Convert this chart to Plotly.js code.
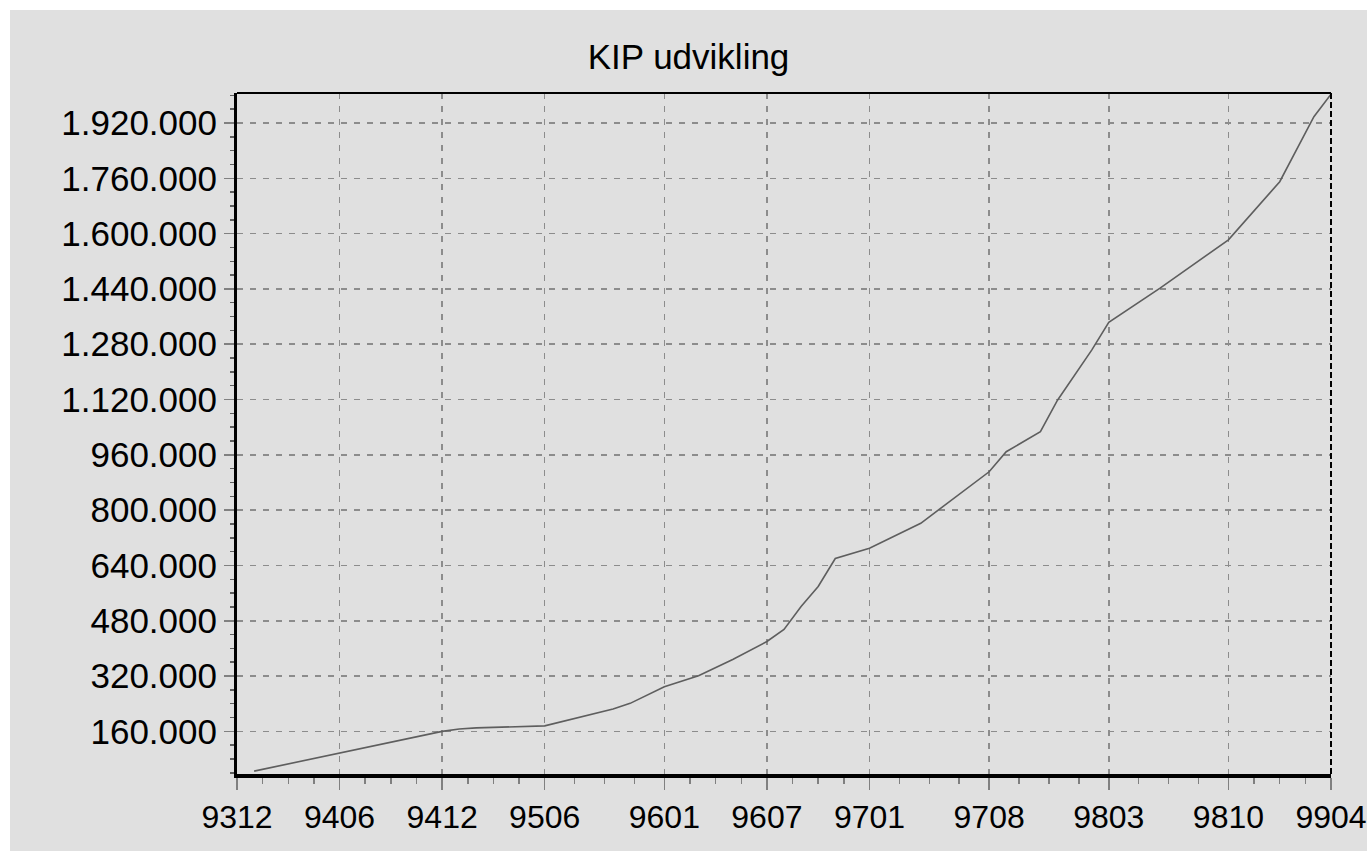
<!DOCTYPE html>
<html>
<head>
<meta charset="utf-8">
<script src="https://cdn.plot.ly/plotly-3.0.1.min.js"></script>
<style>
  html, body { margin: 0; padding: 0; background: #ffffff; overflow: hidden; }
  #chart { position: absolute; left: 10px; top: 10px; width: 1357px; height: 841px; }
</style>
</head>
<body>
<div id="chart"></div>
<script>
// Data (period = YYMM, value = KIP)
const periods = ['9401','9406','9412','9501','9502','9506','9510','9511','9601','9603','9605','9607','9608','9609','9610','9611','9701','9704','9708','9709','9711','9712','9802','9803','9806','9810','9901','9903','9904'];
const values  = [45000,97000,160000,167000,170000,176000,225000,241000,289000,321000,368000,420000,455000,521000,579000,660000,690000,762000,911000,969000,1027000,1118000,1263000,1343000,1442000,1582000,1750000,1938000,2003000];
const tickLabels = ['9312','9406','9412','9506','9601','9607','9701','9708','9803','9810','9904'];
const yTicks = [160000,320000,480000,640000,800000,960000,1120000,1280000,1440000,1600000,1760000,1920000];

// months elapsed since December 1993
function monthIndex(p) {
  const yy = parseInt(p.slice(0, 2), 10);
  const mm = parseInt(p.slice(2), 10);
  return (yy - 93) * 12 + mm - 12;
}
const xs = periods.map(monthIndex);
const tickPos = tickLabels.map(monthIndex);
const minorPos = [];
for (let i = 0; i < tickPos.length - 1; i++) {
  const a = tickPos[i], b = tickPos[i + 1];
  for (let k = 1; k < 4; k++) minorPos.push(a + (b - a) * k / 4);
}

const font = "'Liberation Sans', Arial, sans-serif";

const trace = {
  x: xs, y: values, type: 'scatter', mode: 'lines',
  line: { color: '#5e5e5e', width: 1.6 },
  hoverinfo: 'skip'
};

const layout = {
  width: 1357, height: 841,
  paper_bgcolor: '#e0e0e0', plot_bgcolor: '#e0e0e0',
  margin: { l: 227, r: 36, t: 83, b: 77 },
  separators: ',.',
  showlegend: false,
  title: { text: 'KIP udvikling', x: 0.5, xanchor: 'center', y: 0.945, yanchor: 'middle',
           font: { family: font, size: 35, color: '#000000' } },
  xaxis: {
    range: [0, 64], showline: true, linecolor: '#000000', linewidth: 4,
    tickmode: 'array', tickvals: tickPos, ticktext: tickLabels,
    ticks: 'outside', ticklen: 12, tickwidth: 1.5, tickcolor: '#808080',
    ticklabeloverflow: 'allow',
    tickfont: { family: font, size: 32, color: '#000000' },
    showgrid: true, gridcolor: '#8c8c8c', gridwidth: 1.5, griddash: '6px,7px',
    minor: { tickmode: 'array', tickvals: minorPos, ticks: 'outside', ticklen: 6, tickwidth: 1.5, tickcolor: '#808080', showgrid: false },
    zeroline: false, fixedrange: true
  },
  yaxis: {
    range: [36700, 2006700], showline: true, linecolor: '#000000', linewidth: 3,
    tickmode: 'array', tickvals: yTicks, tickformat: ',d',
    ticks: 'outside', ticklen: 10, tickwidth: 1.5, tickcolor: '#808080',
    tickfont: { family: font, size: 35, color: '#000000' },
    showgrid: true, gridcolor: '#8c8c8c', gridwidth: 1.5, griddash: '6px,7px',
    minor: { dtick: 40000, tick0: 0, ticks: 'outside', ticklen: 4, tickwidth: 1.5, tickcolor: '#606060', showgrid: false },
    zeroline: false, fixedrange: true
  },
  shapes: [
    { type: 'line', xref: 'paper', yref: 'paper', x0: 0, x1: 1, y0: 1, y1: 1, line: { color: '#000000', width: 2 } },
    { type: 'line', xref: 'paper', yref: 'paper', x0: 1, x1: 1, y0: 0, y1: 1, line: { color: '#000000', width: 2, dash: '6px,3px' } }
  ]
};

Plotly.newPlot('chart', [trace], layout, { displayModeBar: false, staticPlot: true });
</script>
</body>
</html>
